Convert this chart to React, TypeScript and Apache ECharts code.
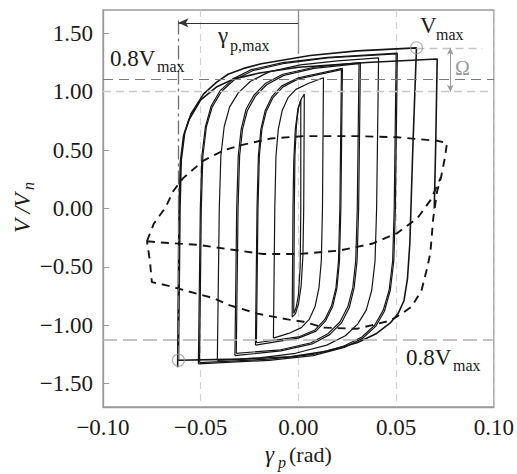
import React, { useEffect, useRef } from "react";
import * as echarts from "echarts";

type P = [number, number];

const yTicks = [-1.5, -1.0, -0.5, 0.0, 0.5, 1.0, 1.5];

const loop1: P[] = [
  [-0.0032, -0.93], [-0.0028, 0.0], [-0.0024, 0.4], [-0.0016, 0.68], [-0.0002, 0.86], [0.0015, 0.94], [0.003, 0.98],
  [0.0027, 0.0], [0.0023, -0.4], [0.0014, -0.66], [0.0, -0.82], [-0.0015, -0.9], [-0.0032, -0.93],
];
const loop1b: P[] = [
  [-0.0024, -0.9], [-0.0021, 0.0], [-0.0018, 0.45], [-0.001, 0.72], [0.0, 0.86], [0.0012, 0.93],
  [0.0012, 0.0], [0.0009, -0.5], [0.0, -0.74], [-0.0012, -0.85], [-0.0024, -0.9],
];
const loop2: P[] = [
  [-0.0128, -1.11], [-0.0121, 0.0], [-0.0115, 0.45], [-0.0103, 0.68], [-0.0083, 0.84], [-0.0053, 0.95], [-0.0013, 1.02], [0.005, 1.07], [0.0128, 1.12],
  [0.0123, 0.0], [0.0117, -0.45], [0.0105, -0.68], [0.0085, -0.84], [0.0055, -0.95], [0.0015, -1.02], [-0.005, -1.07], [-0.0128, -1.11],
];
const loop3: P[] = [
  [-0.022, -1.17], [-0.0212, 0.0], [-0.0205, 0.45], [-0.0192, 0.68], [-0.017, 0.84], [-0.0135, 0.96], [-0.0085, 1.05], [0.0, 1.12], [0.0225, 1.2],
  [0.0217, 0.0], [0.021, -0.45], [0.0197, -0.68], [0.0175, -0.84], [0.014, -0.96], [0.009, -1.05], [0.0, -1.11], [-0.022, -1.17],
];
const loop3b: P[] = [
  [-0.0215, -1.15], [-0.0207, 0.0], [-0.02, 0.45], [-0.0187, 0.68], [-0.0165, 0.83], [-0.013, 0.95], [-0.008, 1.04], [0.0, 1.11], [0.022, 1.19],
  [0.0212, 0.0], [0.0205, -0.45], [0.0192, -0.68], [0.017, -0.83], [0.0135, -0.95], [0.0085, -1.04], [0.0, -1.1], [-0.0215, -1.15],
];
const loop4: P[] = [
  [-0.0325, -1.26], [-0.0316, 0.0], [-0.0308, 0.45], [-0.0293, 0.68], [-0.0268, 0.85], [-0.0228, 0.97], [-0.017, 1.07], [-0.008, 1.15], [0.008, 1.21], [0.0317, 1.25],
  [0.0308, 0.0], [0.03, -0.45], [0.0285, -0.68], [0.026, -0.85], [0.022, -0.98], [0.016, -1.08], [0.007, -1.16], [-0.009, -1.22], [-0.0325, -1.26],
];
const loop4b: P[] = [
  [-0.0318, -1.24], [-0.0309, 0.0], [-0.0301, 0.45], [-0.0286, 0.68], [-0.0261, 0.84], [-0.0221, 0.96], [-0.0163, 1.06], [-0.0075, 1.14], [0.008, 1.2], [0.031, 1.24],
  [0.0301, 0.0], [0.0293, -0.45], [0.0278, -0.68], [0.0253, -0.84], [0.0213, -0.97], [0.0153, -1.07], [0.0065, -1.15], [-0.009, -1.21], [-0.0318, -1.24],
];
const loop5: P[] = [
  [-0.0415, -1.3], [-0.0405, 0.0], [-0.0397, 0.45], [-0.038, 0.7], [-0.0352, 0.87], [-0.0308, 0.99], [-0.0245, 1.09], [-0.015, 1.17], [0.001, 1.23], [0.02, 1.265], [0.041, 1.29],
  [0.04, 0.0], [0.0392, -0.45], [0.0375, -0.7], [0.0347, -0.87], [0.0303, -0.99], [0.024, -1.09], [0.0145, -1.17], [-0.0015, -1.24], [-0.02, -1.28], [-0.0415, -1.3],
];
const loop6: P[] = [
  [-0.0512, -1.33], [-0.0502, 0.0], [-0.0494, 0.45], [-0.0476, 0.7], [-0.0446, 0.88], [-0.04, 1.01], [-0.0335, 1.11], [-0.024, 1.19], [-0.008, 1.25], [0.015, 1.295], [0.0506, 1.33],
  [0.0496, 0.0], [0.0488, -0.45], [0.047, -0.7], [0.044, -0.88], [0.0395, -1.01], [0.033, -1.11], [0.0235, -1.19], [0.0075, -1.26], [-0.015, -1.3], [-0.0512, -1.33],
];
const loop6b: P[] = [
  [-0.0506, -1.32], [-0.0497, 0.0], [-0.0489, 0.45], [-0.0471, 0.7], [-0.0441, 0.87], [-0.0395, 1.0], [-0.033, 1.1], [-0.0235, 1.18], [-0.008, 1.24], [0.015, 1.29], [0.05, 1.325],
  [0.049, 0.0], [0.0482, -0.45], [0.0464, -0.7], [0.0434, -0.87], [0.039, -1.0], [0.0325, -1.1], [0.023, -1.18], [0.0075, -1.25], [-0.015, -1.29], [-0.0506, -1.32],
];
const loop7: P[] = [
  [-0.0614, -1.3], [-0.0606, 0.0], [-0.06, 0.41], [-0.0582, 0.65], [-0.055, 0.81], [-0.0486, 0.98], [-0.042, 1.08], [-0.036, 1.15], [-0.028, 1.2], [-0.019, 1.24], [0.006, 1.31], [0.03, 1.35], [0.0604, 1.376],
  [0.0585, 0.5], [0.057, -0.3], [0.0558, -0.6], [0.054, -0.79], [0.051, -0.9], [0.047, -0.98], [0.04, -1.07], [0.03, -1.15], [0.015, -1.22], [-0.004, -1.27], [-0.03, -1.29], [-0.0614, -1.3],
];
const loop8: P[] = [
  [-0.0618, -1.36], [-0.0611, 0.0], [-0.0604, 0.4], [-0.0588, 0.62], [-0.056, 0.76], [-0.05, 0.93], [-0.042, 1.04], [-0.033, 1.11], [-0.02, 1.16], [0.0, 1.21], [0.035, 1.25], [0.071, 1.28],
  [0.0703, 0.6], [0.0695, 0.0],
];

const dashedOuter: P[] = [
  [-0.0775, -0.28], [-0.074, -0.13], [-0.068, 0.01], [-0.064, 0.15], [-0.059, 0.26], [-0.0486, 0.41], [-0.038, 0.5], [-0.03, 0.54], [-0.014, 0.6], [0.0026, 0.62], [0.03, 0.62], [0.0506, 0.61], [0.071, 0.58], [0.076, 0.56],
  [0.075, 0.44], [0.073, 0.27], [0.071, 0.15], [0.069, -0.08], [0.0675, -0.38], [0.066, -0.5], [0.063, -0.7], [0.058, -0.84], [0.052, -0.91], [0.047, -0.96], [0.03, -1.03], [0.013, -1.02], [0.0026, -0.97], [-0.0056, -0.95], [-0.021, -0.9], [-0.035, -0.83], [-0.043, -0.77], [-0.052, -0.73], [-0.067, -0.66], [-0.075, -0.63], [-0.076, -0.45], [-0.0775, -0.28],
];
const dashedInner: P[] = [
  [-0.0775, -0.28], [-0.072, -0.29], [-0.052, -0.31], [-0.035, -0.35], [-0.018, -0.39], [0.0, -0.39], [0.021, -0.36], [0.038, -0.3], [0.0506, -0.21], [0.061, -0.08], [0.0675, 0.07], [0.073, 0.27],
];

const peakPoints: P[] = [[0.0604, 1.376], [-0.0614, -1.3]];

const vMax = 1.376;
const vLimitTop = 1.11;
const vLimitBottom = -1.12;
const gammaPMax = -0.0614;

const SERIF = "'Liberation Serif', 'Times New Roman', serif";
const fmt = (v: number) => v.toFixed(2).replace("-", "\u2212");

function txt(x: number, y: number, text: string, size: number, extra: any = {}) {
  const { rotation, fill, italic, align } = extra;
  return {
    type: "text",
    x,
    y,
    rotation: rotation || 0,
    silent: true,
    z: 20,
    style: {
      text,
      fontFamily: SERIF,
      fontSize: size,
      fontStyle: italic ? "italic" : "normal",
      fill: fill || "#1a1a1a",
      align: align || "left",
      textAlign: align || "left",
      verticalAlign: "middle",
      textVerticalAlign: "middle",
    },
  };
}

export default function App() {
  const ref = useRef<HTMLDivElement>(null);
  useEffect(() => {
    document.body.style.margin = "0";
    const chart = echarts.init(ref.current!, null, { renderer: "svg" });
    const loops = [loop1, loop1b, loop2, loop3, loop3b, loop4, loop4b, loop5, loop6, loop6b, loop7, loop8];
    const solid = loops.map((d, i) => ({
      type: "line",
      data: d,
      showSymbol: false,
      silent: true,
      z: 3,
      lineStyle: { color: "#151515", width: i >= 10 ? 1.6 : 1.2 },
    }));
    const ml = (a: P, b: P, ls: any, s0 = "none", s1 = "none", size: any = 8) => [
      { coord: a, symbol: s0, symbolSize: size, lineStyle: ls },
      { coord: b, symbol: s1, symbolSize: size },
    ];
    const option: any = {
      animation: false,
      grid: { left: 103, right: 23, top: 10, bottom: 67, show: true, borderColor: "#9a9a9a", borderWidth: 1.3 },
      xAxis: {
        type: "value",
        min: -0.1,
        max: 0.1,
        interval: 0.05,
        axisLine: { show: true, onZero: false, lineStyle: { color: "#9a9a9a", width: 1.3 } },
        axisTick: { show: false },
        splitLine: { show: true, lineStyle: { color: "#d2d2d2", type: [7, 5], width: 1.2 } },
        axisLabel: { fontFamily: SERIF, fontSize: 23, color: "#1a1a1a", margin: 9, formatter: fmt },
      },
      yAxis: {
        type: "value",
        min: -1.7,
        max: 1.7,
        axisLine: { show: true, onZero: false, lineStyle: { color: "#9a9a9a", width: 1.3 } },
        axisTick: { show: true, inside: true, length: 6, customValues: yTicks, lineStyle: { color: "#9a9a9a" } },
        splitLine: { show: false },
        axisLabel: { fontFamily: SERIF, fontSize: 23, color: "#1a1a1a", margin: 10, customValues: yTicks, formatter: fmt },
      },
      series: [
        ...solid,
        {
          type: "line",
          data: dashedOuter,
          showSymbol: false,
          silent: true,
          z: 4,
          lineStyle: { color: "#151515", width: 1.9, type: [8, 6] },
        },
        {
          type: "line",
          data: dashedInner,
          showSymbol: false,
          silent: true,
          z: 4,
          lineStyle: { color: "#151515", width: 1.9, type: [8, 6] },
          markLine: {
            silent: true,
            animation: false,
            label: { show: false },
            emphasis: { disabled: true },
            data: [
              ml([-0.1, 1.0], [0.1, 1.0], { color: "#c8c8c8", type: [8, 5], width: 1.3 }),
              ml([-0.1, vLimitTop], [0.1, vLimitTop], { color: "#7a7a7a", type: [10, 6], width: 1.2 }),
              ml([-0.1, vLimitBottom], [0.1, vLimitBottom], { color: "#b0b0b0", type: [14, 6], width: 1.6 }),
              ml([0.0604, vMax], [0.094, vMax], { color: "#c4c4c4", type: [8, 5], width: 1.3 }),
              ml([gammaPMax, 1.61], [gammaPMax, -1.3], { color: "#6e6e6e", type: [14, 4, 3, 4], width: 1.3 }),
              ml([0.0, 1.7], [0.0, 1.325], { color: "#8c8c8c", type: "solid", width: 1.3 }),
              ml([0.0, 1.59], [gammaPMax, 1.59], { color: "#333", type: "solid", width: 1.1 }, "none", "arrow", [7, 10]),
              ml([0.0777, vMax], [0.0777, 1.0], { color: "#999", type: "solid", width: 1 }, "arrow", "arrow", [5, 7]),
            ],
          },
        },
        {
          type: "scatter",
          data: peakPoints,
          symbol: "circle",
          symbolSize: 12,
          silent: true,
          z: 6,
          itemStyle: { color: "rgba(0,0,0,0)", borderColor: "#999", borderWidth: 1.1 },
        },
      ],
      graphic: [
        txt(110, 58, "0.8V", 23),
        txt(157, 66, "max", 16),
        txt(420, 25, "V", 23),
        txt(436, 34, "max", 16),
        txt(406, 357, "0.8V", 23),
        txt(453, 365, "max", 16),
        txt(455, 68, "\u03A9", 20, { fill: "#999" }),
        txt(218, 35, "\u03B3", 23),
        txt(230, 45, "p,max", 16),
        txt(22, 213, "V /V", 23, { rotation: Math.PI / 2, italic: true, align: "center" }),
        txt(28, 186, "n", 16, { rotation: Math.PI / 2, italic: true, align: "center" }),
        txt(265, 454, "\u03B3", 23, { italic: true }),
        txt(278, 462, "p", 16, { italic: true }),
        txt(289, 454, "(rad)", 22),
      ],
    };
    chart.setOption(option);
    return () => chart.dispose();
  }, []);
  return <div ref={ref} style={{ width: 517, height: 474 }} />;
}
